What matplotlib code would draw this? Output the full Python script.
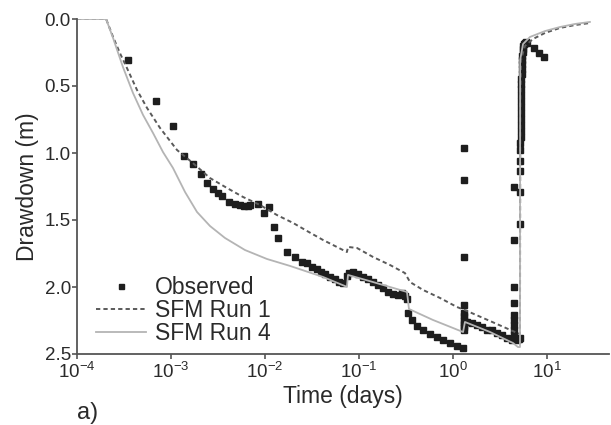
import matplotlib.pyplot as plt
import numpy as np

plt.rcParams['font.family'] = ['Liberation Sans', 'DejaVu Sans']
plt.rcParams['mathtext.fontset'] = 'custom'
plt.rcParams['mathtext.rm'] = 'Liberation Sans'
plt.rcParams['mathtext.default'] = 'regular'

#%% Data (time in days, drawdown in m)
# observed - pumping phase
obs_time_pump = [3.49e-4, 6.92e-4, 1.05e-3, 1.37e-3, 1.71e-3, 2.08e-3, 2.42e-3, 2.80e-3,
                 3.16e-3, 3.49e-3, 4.14e-3, 4.80e-3, 5.42e-3, 5.98e-3, 6.59e-3, 6.92e-3,
                 8.43e-3, 9.75e-3, 1.10e-2, 1.25e-2, 1.37e-2, 1.71e-2, 2.08e-2, 2.48e-2,
                 2.80e-2, 3.16e-2, 3.57e-2, 3.95e-2, 4.35e-2, 4.91e-2, 5.56e-2, 6.12e-2,
                 6.76e-2, 7.44e-2, 7.83e-2, 8.63e-2, 9.75e-2, 0.110, 0.125, 0.141, 0.159,
                 0.180, 0.204, 0.230, 0.260, 0.286, 0.308, 0.324, 0.332, 0.366, 0.414,
                 0.480, 0.569, 0.676, 0.783, 0.929, 1.10, 1.28]
obs_dd_pump = [0.306, 0.612, 0.799, 1.022, 1.082, 1.157, 1.224, 1.269,
               1.299, 1.321, 1.366, 1.381, 1.388, 1.396, 1.396, 1.388,
               1.381, 1.448, 1.403, 1.552, 1.634, 1.739, 1.776, 1.813,
               1.821, 1.851, 1.866, 1.888, 1.903, 1.925, 1.940, 1.963,
               1.970, 1.918, 1.896, 1.888, 1.903, 1.925, 1.940, 1.963, 1.985,
               2.007, 2.037, 2.052, 2.060, 2.045, 2.067, 2.090, 2.194, 2.246, 2.291,
               2.321, 2.351, 2.373, 2.396, 2.418, 2.440, 2.455]
# observed - second pumping step (incl. spikes at ~1.3 d and ~4.5 d)
obs_time_step = [1.31, 1.31, 1.31, 1.31, 1.31, 1.31, 1.31, 1.31, 1.31, 1.31, 1.31,
                 1.41, 1.59, 1.80, 2.04, 2.30, 2.60, 2.94, 3.32, 3.75, 4.24,
                 4.46, 4.46, 4.46, 4.46, 4.46, 4.46, 4.46, 4.46, 4.46, 4.46,
                 4.60, 4.80, 5.00]
obs_dd_step = [0.963, 1.201, 1.776, 2.134, 2.194, 2.220, 2.246, 2.270, 2.284, 2.300, 2.321,
               2.261, 2.269, 2.284, 2.299, 2.321, 2.321, 2.343, 2.358, 2.381, 2.396,
               1.254, 1.649, 2.000, 2.119, 2.209, 2.246, 2.284, 2.321, 2.358, 2.380,
               2.390, 2.396, 2.390]
# observed - recovery
obs_time_rec = [5.16, 5.17, 5.18, 5.19, 5.20, 5.21, 5.22, 5.23, 5.24, 5.25, 5.26, 5.27,
                5.28, 5.29, 5.30, 5.31, 5.32, 5.34, 5.36, 5.38, 5.40, 5.43, 5.46, 5.50,
                5.55, 5.62, 5.70, 5.80, 5.95, 6.15, 7.28, 8.22, 9.29]
obs_dd_rec = [2.381, 1.530, 1.291, 1.134, 1.060, 0.978, 0.925, 0.881, 0.836, 0.791, 0.746, 0.701,
              0.657, 0.612, 0.567, 0.522, 0.485, 0.448, 0.410, 0.373, 0.336, 0.306, 0.276, 0.246,
              0.224, 0.201, 0.187, 0.179, 0.172, 0.179, 0.216, 0.254, 0.284]

# SFM Run 1
run1_time = [1e-4, 2.04e-4, 2.42e-4, 2.86e-4, 3.40e-4, 4.35e-4, 5.56e-4, 7.64e-4, 1.16e-3,
             1.71e-3, 2.60e-3, 3.94e-3, 5.83e-3, 8.85e-3, 1.34e-2, 1.99e-2, 2.80e-2, 4.14e-2,
             7.44e-2, 7.64e-2, 9.53e-2, 0.141, 0.214, 0.308, 0.349, 0.480, 0.728, 1.10, 1.41,
             2.48, 4.57, 5.16, 5.20, 5.29, 5.83, 7.10, 9.53, 13.7, 19.9, 28.6]
run1_dd = [0, 0, 0.134, 0.254, 0.366, 0.530, 0.664, 0.813, 0.978,
           1.075, 1.187, 1.261, 1.328, 1.388, 1.463, 1.522, 1.582, 1.649,
           1.739, 1.701, 1.709, 1.776, 1.836, 1.896, 1.963, 2.022, 2.082, 2.149, 2.179,
           2.254, 2.336, 2.351, 0.604, 0.306, 0.201, 0.149, 0.104, 0.067, 0.045, 0.030]

# SFM Run 4
run4_time = [1e-4, 2.04e-4, 2.42e-4, 3.08e-4, 3.94e-4, 5.04e-4, 6.44e-4, 8.22e-4, 1.05e-3,
             1.41e-3, 1.89e-3, 2.60e-3, 3.75e-3, 6.12e-3, 1.05e-2, 1.85e-2, 4.14e-2, 7.10e-2,
             7.44e-2, 7.64e-2, 0.141, 0.324, 0.340, 0.612, 1.28, 1.34, 2.48, 4.35, 4.91,
             5.16, 5.18, 5.56, 6.59, 9.53, 13.7, 19.9, 28.6]
run4_dd = [0, 0, 0.142, 0.358, 0.552, 0.716, 0.851, 0.993, 1.112,
           1.291, 1.440, 1.545, 1.634, 1.724, 1.791, 1.843, 1.925, 1.993,
           2.000, 1.910, 1.963, 2.037, 2.164, 2.246, 2.336, 2.261, 2.336, 2.418, 2.448,
           2.448, 0.306, 0.187, 0.134, 0.090, 0.060, 0.037, 0.022]

obs_time = obs_time_pump + obs_time_step + obs_time_rec
obs_dd = obs_dd_pump + obs_dd_step + obs_dd_rec

#%% Plot
fig = plt.figure(figsize=(6.11, 4.25), dpi=100)
ax = fig.add_axes([77/611, 1-354/425, (609-77)/611, (354-19)/425])

ax.plot(obs_time, obs_dd, ls="none", marker="s", ms=4.5, color="#1e1e1e",
        mec="#1e1e1e", label="Observed")
ax.plot(run1_time, run1_dd, ls=(0, (2.2, 1.6)), lw=1.4, color="#5a5a5a", label="SFM Run 1")
ax.plot(run4_time, run4_dd, ls="-", lw=1.3, color="#b4b4b4", label="SFM Run 4")

ax.set_xscale("log")
ax.set_xlim(1e-4, 10**(1 + 62/94))
ax.set_ylim(2.5, 0.0)
ax.set_yticks(np.arange(0, 2.51, 0.5))
ax.yaxis.set_major_formatter(plt.FormatStrFormatter("%.1f"))
ax.xaxis.set_minor_locator(plt.NullLocator())

for side in ["top", "right"]:
    ax.spines[side].set_visible(False)
for side in ["left", "bottom"]:
    ax.spines[side].set_color("#555555")
    ax.spines[side].set_linewidth(1.3)
ax.tick_params(direction="out", length=3.5, width=1.2, color="#555555",
               labelsize=13.5, labelcolor="#2a2a2a", pad=1)
ax.tick_params(axis="x", pad=2)

ax.set_xlabel("Time (days)", fontsize=16.5, color="#2a2a2a", labelpad=2)
ax.set_ylabel("Drawdown (m)", fontsize=16.5, color="#2a2a2a", labelpad=4)

leg = ax.legend(loc="lower left", bbox_to_anchor=(0.005, -0.02), frameon=False,
                fontsize=16.5, handlelength=2.2, handletextpad=0.4,
                labelspacing=0.0, markerscale=0.8, borderpad=0.2)
for txt in leg.get_texts():
    txt.set_color("#2a2a2a")

fig.text(77/611, 1-413/425, "a)", fontsize=17, color="#2a2a2a", va="center", ha="left")

fig.savefig("out.png", dpi=100)
